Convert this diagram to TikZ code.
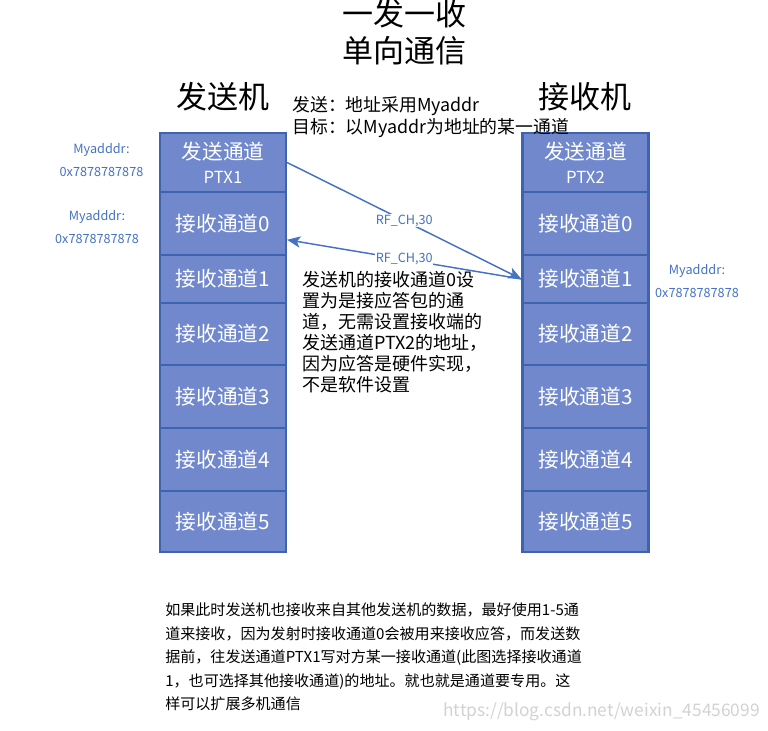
\documentclass[tikz,border=0pt]{standalone}
\usepackage{fontspec}
\setmainfont{Noto Sans CJK SC}
\usetikzlibrary{positioning,arrows.meta,calc}
\definecolor{chanFill}{HTML}{7189CC}
\definecolor{chanLine}{HTML}{3D64AF}
\definecolor{addrBlue}{HTML}{4472C4}

\begin{document}
\begin{tikzpicture}[x=0.75pt,y=-0.75pt,
      chan/.style={draw=chanLine, line width=1.6pt, fill=chanFill, text=white,
                   minimum width=94.5pt, minimum height=#1, inner sep=0pt,
                   align=center, font=\fontsize{15.5}{19}\selectfont},
      addr/.style={text=addrBlue, align=center, inner sep=0pt,
                   font=\fontsize{9.5}{17.25}\selectfont},
      link/.style={draw=addrBlue, line width=1.1pt,
                   -{Stealth[length=10pt,width=8.5pt,inset=2.5pt]}},
      rflabel/.style={midway, fill=white, inner sep=0.5pt, text=addrBlue,
                      font=\fontsize{9.5}{11}\selectfont},
      note/.style={anchor=west, align=left, inner sep=0pt}]
    \useasboundingbox (0,0) rectangle (768,731);
    % titles
    \node[font=\fontsize{23.25}{27.75}\selectfont, align=center] (title) at (404,32.5) {一发一收\\单向通信};
    \node[font=\fontsize{23.25}{27}\selectfont] (txHead) at (223,97) {发送机};
    \node[font=\fontsize{23.25}{27}\selectfont] (rxHead) at (585,97) {接收机};
    % channel columns
    \foreach \s/\cx/\ptx in {L/223/PTX1,R/585.5/PTX2} {
      \node[chan=44.25pt] (ptx\s) at (\cx,162.5)
        {发送通道\\[-1pt]{\fontsize{12.5}{15}\selectfont \ptx}};
      \foreach \i/\cy/\h in {0/223.5/47.25pt,1/279/36pt,2/334/46.5pt,
                             3/396.5/47.25pt,4/459.5/47.25pt,5/521.5/45.75pt}
        \node[chan=\h] (ch\s\i) at (\cx,\cy) {接收通道\i};
    }
    % addresses
    \node[addr] (addrTx)  at (101.5,160.5) {Myadddr:\\0x7878787878};
    \node[addr] (addrRx0) at (97,227.5)    {Myadddr:\\0x7878787878};
    \node[addr] (addrRx1) at (697,281.5)   {Myadddr:\\0x7878787878};
    % links
    \draw[link] (ptxL.east) -- node[rflabel] {RF\_CH,30} (chR1.west);
    \draw[link] (chR1.west) -- node[rflabel] {RF\_CH,30}
      ($(chL0.east)!0.5!(chL0.south east)$);
    % notes
    \node[note, font=\fontsize{13.4}{16.5}\selectfont] (goal) at (292,117)
      {发送：地址采用Myaddr\\目标：以Myaddr为地址的某一通道};
    \node[note, font=\fontsize{13.5}{15.75}\selectfont] (ack) at (302,332)
      {发送机的接收通道0设\\置为是接应答包的通\\道，无需设置接收端的\\发送通道PTX2的地址，\\因为应答是硬件实现，\\不是软件设置};
    \node[note, font=\fontsize{11.3}{17.6}\selectfont] (multi) at (165,657)
      {如果此时发送机也接收来自其他发送机的数据，最好使用1-5通\\道来接收，因为发射时接收通道0会被用来接收应答，而发送数\\据前，往发送通道PTX1写对方某一接收通道(此图选择接收通道\\1，也可选择其他接收通道)的地址。就也就是通道要专用。这\\样可以扩展多机通信};
    \node[anchor=east, inner sep=0pt, text=gray!35, font=\fontsize{13}{15}\selectfont]
      (mark) at (760,712) {https://blog.csdn.net/weixin\_45456099};
  \end{tikzpicture}
\end{document}
